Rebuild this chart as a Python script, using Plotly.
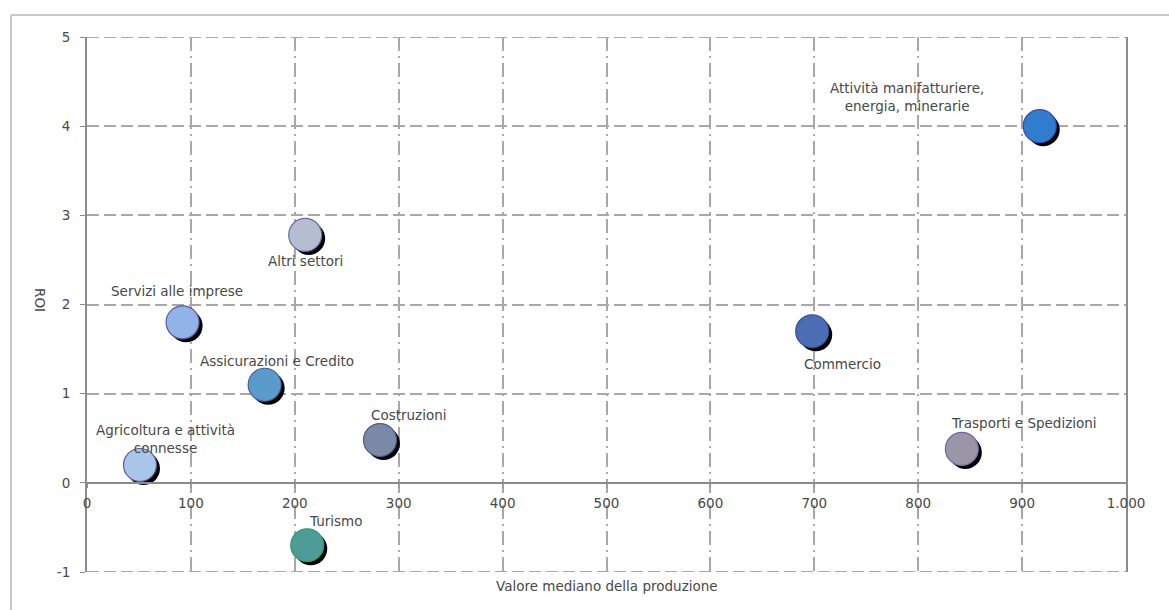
import plotly.graph_objects as go

# ---- data ----
sectors = [
    "Agricoltura e attività<br>connesse",
    "Servizi alle imprese",
    "Assicurazioni e Credito",
    "Altri settori",
    "Turismo",
    "Costruzioni",
    "Commercio",
    "Trasporti e Spedizioni",
    "Attività manifatturiere,<br>energia, minerarie",
]
production = [51, 92, 171, 210, 212, 282, 698, 842, 917]
roi = [0.2, 1.8, 1.1, 2.78, -0.7, 0.48, 1.7, 0.38, 4.0]

x_ticks = [0, 100, 200, 300, 400, 500, 600, 700, 800, 900, 1000]
x_labels = ["0", "100", "200", "300", "400", "500", "600", "700", "800",
            "900", "1.000"]
y_ticks = [-1, 0, 1, 2, 3, 4, 5]
y_labels = ["-1", "0", "1", "2", "3", "4", "5"]

# ---- style ----
colors = ["#a9c6ea", "#92b3e8", "#5b9bcb", "#b5bdd0", "#4d9c97",
          "#7c89a6", "#4a6db3", "#9c95a8", "#2f7dcc"]
outline = ["#5a5aa0", "#5a5aa0", "#4a5a90", "#6a6aa0", "#2e9a60",
           "#4a5a8a", "#3a4a90", "#6a6aa0", "#3a4ab0"]
# label offsets in pixels (xshift, yshift)
lab_shift = [(26, 26), (-6, 31), (12, 24), (0, -26), (29, 24),
             (29, 25), (30, -33), (62, 26), (-133, 29)]

W, H = 1169, 610
L, R, T, B = 87, 43, 37, 38
pw, ph = W - L - R, H - T - B
xr = [0, 1000]
yr = [-1, 5]
sx = (xr[1] - xr[0]) / pw
sy = (yr[1] - yr[0]) / ph
sh = 3.5  # shadow offset px
msize = 33

font = "'DejaVu Sans', Verdana, sans-serif"
grid = "#a8a8a8"
txt = "#484848"
fs = 13.5
hdash = "12px,5px"

fig = go.Figure()
# base (invisible) trace so the main axes and grid render
fig.add_trace(go.Scatter(
    x=production, y=roi, mode="markers", xaxis="x", yaxis="y",
    marker=dict(size=1, opacity=0), hoverinfo="skip", showlegend=False))
# shadow
fig.add_trace(go.Scatter(
    x=production, y=roi, mode="markers", xaxis="x2", yaxis="y2",
    marker=dict(size=msize, color="#000000", line=dict(width=0)),
    hoverinfo="skip", showlegend=False))
# markers
fig.add_trace(go.Scatter(
    x=production, y=roi, mode="markers", xaxis="x3", yaxis="y3",
    marker=dict(size=msize, color=colors, line=dict(width=1.2, color=outline)),
    text=sectors, showlegend=False))

annotations = []
for s, xv, yv, (dx, dy) in zip(sectors, production, roi, lab_shift):
    annotations.append(dict(
        x=xv, y=yv, xref="x3", yref="y3", text=s, showarrow=False,
        xshift=dx, yshift=dy, font=dict(family=font, size=fs, color=txt),
        align="center"))
annotations.append(dict(
    x=0.5, y=-0.008, xref="paper", yref="paper", yanchor="top",
    text="Valore mediano della produzione", showarrow=False,
    font=dict(family=font, size=fs, color=txt)))
annotations.append(dict(
    x=-(L - 30) / pw, y=(572 - 300) / ph, xref="paper", yref="paper",
    text="ROI", textangle=90, showarrow=False,
    font=dict(family=font, size=fs, color=txt)))

fig.update_layout(
    width=W, height=H,
    margin=dict(l=L, r=R, t=T, b=B),
    paper_bgcolor="white", plot_bgcolor="white",
    font=dict(family=font, size=fs, color=txt),
    xaxis=dict(range=xr, tickvals=x_ticks, ticktext=x_labels,
               anchor="free", position=(0 - yr[0]) / (yr[1] - yr[0]),
               showline=True, linecolor="#8c8c8c", linewidth=2,
               ticks="outside", ticklen=4, tickcolor="#8c8c8c",
               ticklabelstandoff=4,
               showgrid=True, gridcolor=grid, gridwidth=2,
               griddash="14px,5px,2px,5px", zeroline=False,
               tickfont=dict(family=font, size=fs, color=txt)),
    yaxis=dict(range=yr, tickvals=y_ticks, ticktext=y_labels,
               showline=True, mirror=True, linecolor="#8c8c8c", linewidth=2,
               ticks="outside", ticklen=5, tickcolor="#8c8c8c",
               ticklabelstandoff=7,
               showgrid=True, gridcolor=grid, gridwidth=2,
               griddash=hdash, zeroline=False,
               tickfont=dict(family=font, size=fs, color=txt)),
    xaxis2=dict(range=[xr[0] - sh * sx, xr[1] - sh * sx], overlaying="x",
                visible=False),
    yaxis2=dict(range=[yr[0] + sh * sy, yr[1] + sh * sy], overlaying="y",
                visible=False),
    xaxis3=dict(range=xr, overlaying="x", visible=False),
    yaxis3=dict(range=yr, overlaying="y", visible=False),
    annotations=annotations,
    shapes=[
        # outer chart frame (left and top edges)
        dict(type="line", xref="paper", yref="paper",
             x0=(11 - L) / pw, x1=(11 - L) / pw,
             y0=(H - B - 15) / ph, y1=-(B + 5) / ph,
             line=dict(color="#c8c8c8", width=2)),
        dict(type="line", xref="paper", yref="paper",
             x0=(11 - L) / pw, x1=(W + 5 - L) / pw,
             y0=(H - B - 15) / ph, y1=(H - B - 15) / ph,
             line=dict(color="#c8c8c8", width=2)),
        # dashed plot-area edges at the outer grid values
        dict(type="line", xref="paper", yref="y", layer="below",
             x0=0, x1=1, y0=y_ticks[0], y1=y_ticks[0],
             line=dict(color=grid, width=2, dash=hdash)),
        dict(type="line", xref="paper", yref="y", layer="below",
             x0=0, x1=1, y0=y_ticks[-1], y1=y_ticks[-1],
             line=dict(color=grid, width=2, dash=hdash)),
    ],
)

fig.write_html("out.html")
